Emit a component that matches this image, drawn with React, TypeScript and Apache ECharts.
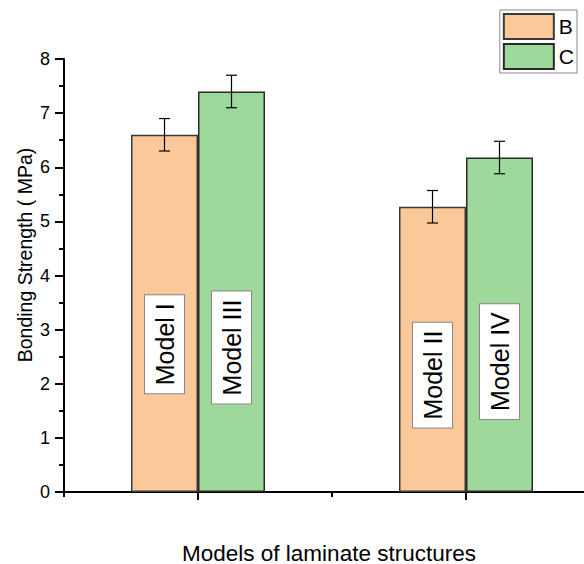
import React, { useEffect, useRef } from "react";
import * as echarts from "echarts";

const categories = ["Group 1", "Group 2"];
const seriesNames = ["B", "C"];
const valuesB = [6.6, 5.27];
const valuesC = [7.4, 6.18];
const errorsB = [0.3, 0.3];
const errorsC = [0.3, 0.3];
const yTicks = { min: 0, max: 8, interval: 1 };
// label boxes: category index, value position, text, bar side (-1 = B, 1 = C)
const labelTexts = ["Model I", "Model III", "Model II", "Model IV"];
const labelCats = [0, 0, 1, 1];
const labelSides = [-1, 1, -1, 1];
const labelValues = [2.73, 2.67, 2.16, 2.41];
const xName = "Models of laminate structures";
const yName = "Bonding Strength ( MPa)";

const FONT = "'Liberation Sans', Arial, sans-serif";
const colorB = "#FBC999";
const colorC = "#9FD89B";

function errorSeries(values: number[], errs: number[], side: number) {
  return {
    type: "custom",
    xAxisIndex: 0,
    yAxisIndex: 0,
    silent: true,
    z: 5,
    data: values.map((v, i) => [i, v, errs[i]]),
    renderItem: (params: any, api: any) => {
      const cat = api.value(0);
      const v = api.value(1);
      const e = api.value(2);
      const catW = api.size([1, 0])[0];
      const top = api.coord([cat, v + e]);
      const bot = api.coord([cat, v - e]);
      const x = top[0] + side * catW * 0.125;
      const cap = 5.5;
      const st = { stroke: "#000", lineWidth: 1.2 };
      return {
        type: "group",
        children: [
          { type: "line", shape: { x1: x, y1: top[1], x2: x, y2: bot[1] }, style: st },
          { type: "line", shape: { x1: x - cap, y1: top[1], x2: x + cap, y2: top[1] }, style: st },
          { type: "line", shape: { x1: x - cap, y1: bot[1], x2: x + cap, y2: bot[1] }, style: st },
        ],
      };
    },
  };
}

export default function App() {
  const ref = useRef<HTMLDivElement>(null);
  useEffect(() => {
    if (!ref.current) return;
    const chart = echarts.init(ref.current, null, { renderer: "svg" });
    const option: any = {
      animation: false,
      backgroundColor: "#fff",
      textStyle: { fontFamily: FONT },
      grid: { left: 64, top: 59, bottom: 72, right: 0, containLabel: false },
      legend: {
        data: seriesNames,
        orient: "vertical",
        right: 23,
        top: 10,
        icon: "rect",
        itemWidth: 50,
        itemHeight: 25,
        itemGap: 3,
        padding: 3,
        borderColor: "#888",
        borderWidth: 1,
        textStyle: { fontSize: 21, color: "#000", fontFamily: FONT },
        selectedMode: false,
      },
      xAxis: [
        {
          type: "category",
          data: categories,
          boundaryGap: true,
          axisLine: { show: true, lineStyle: { color: "#000", width: 2 } },
          axisTick: { show: true, alignWithLabel: true, length: 8, lineStyle: { color: "#000", width: 2 } },
          axisLabel: { show: false },
          splitLine: { show: false },
        },
        {
          type: "category",
          data: categories,
          position: "bottom",
          boundaryGap: true,
          axisLine: { show: false },
          axisTick: { show: true, length: 5, lineStyle: { color: "#000", width: 2 } },
          axisLabel: { show: false },
          splitLine: { show: false },
        },
      ],
      yAxis: {
        type: "value",
        min: yTicks.min,
        max: yTicks.max,
        interval: yTicks.interval,
        axisLine: { show: true, lineStyle: { color: "#000", width: 2 } },
        axisTick: { show: true, length: 9, lineStyle: { color: "#000", width: 2 } },
        minorTick: { show: true, splitNumber: 2, length: 5, lineStyle: { color: "#000", width: 2 } },
        axisLabel: { fontSize: 18, color: "#000", margin: 14, fontFamily: FONT },
        splitLine: { show: false },
      },
      graphic: [
        {
          type: "text",
          x: 329,
          y: 553,
          style: { text: xName, fontSize: 22.5, fill: "#000", align: "center", verticalAlign: "middle", fontFamily: FONT },
        },
        {
          type: "text",
          x: 25,
          y: 255,
          rotation: Math.PI / 2,
          style: { text: yName, fontSize: 19.5, fill: "#000", align: "center", verticalAlign: "middle", fontFamily: FONT },
        },
      ],
      series: [
        {
          name: seriesNames[0],
          type: "bar",
          data: valuesB,
          barWidth: "25%",
          barGap: "0%",
          itemStyle: { color: colorB, borderColor: "#3a3a3a", borderWidth: 1.5 },
        },
        {
          name: seriesNames[1],
          type: "bar",
          data: valuesC,
          barWidth: "25%",
          barGap: "0%",
          itemStyle: { color: colorC, borderColor: "#2a2a2a", borderWidth: 1.5 },
        },
        errorSeries(valuesB, errorsB, -1),
        errorSeries(valuesC, errorsC, 1),
        {
          type: "custom",
          silent: true,
          z: 6,
          data: labelValues.map((v, i) => [labelCats[i], v, labelSides[i]]),
          renderItem: (params: any, api: any) => {
            const cat = api.value(0);
            const v = api.value(1);
            const side = api.value(2);
            const p = api.coord([cat, v]);
            const catW = api.size([1, 0])[0];
            return {
              type: "text",
              x: p[0] + side * catW * 0.125,
              y: p[1],
              rotation: Math.PI / 2,
              style: {
                text: labelTexts[params.dataIndex],
                fontSize: 25,
                lineHeight: 25,
                fontFamily: FONT,
                fill: "#000",
                align: "center",
                verticalAlign: "middle",
                backgroundColor: "#fff",
                borderColor: "#888",
                borderWidth: 1,
                padding: [7, 8],
              },
            };
          },
        },
      ],
    };
    chart.setOption(option);
    return () => chart.dispose();
  }, []);
  return (
    <div style={{ position: "fixed", left: 0, top: 0, width: 584, height: 564, overflow: "hidden" }}>
      <div ref={ref} style={{ width: 600, height: 564 }} />
    </div>
  );
}
